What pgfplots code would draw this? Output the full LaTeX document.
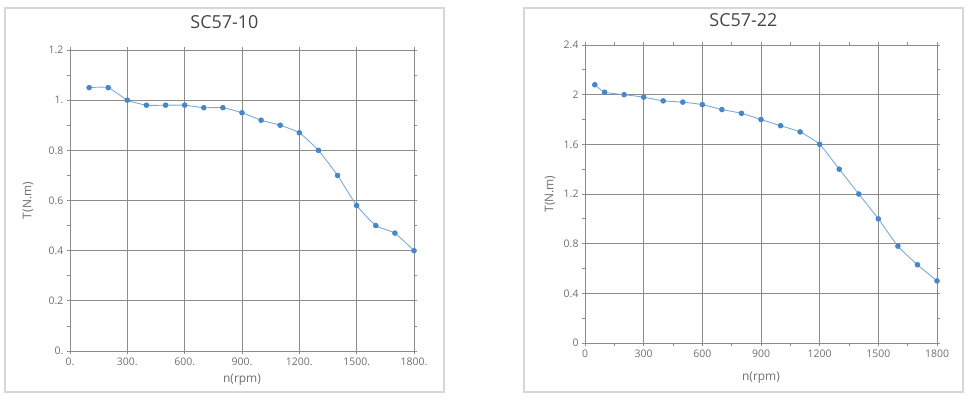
\documentclass[border=0pt]{standalone}
\usepackage{pgfplots}
\pgfplotsset{compat=1.18}
\usepackage{fontspec}
\setmainfont{Open Sans}
\definecolor{linec}{RGB}{120,170,220}
\definecolor{markc}{RGB}{70,135,200}
\definecolor{gridc}{RGB}{140,140,140}
\definecolor{framec}{RGB}{215,215,215}
\definecolor{txtc}{RGB}{110,110,110}
\definecolor{titc}{RGB}{70,70,70}
\pgfplotsset{
  common/.style={
    scale only axis,
    axis line style={gridc, line width=0.9bp},
    grid=major,
    major grid style={gridc, line width=0.9bp},
    tick style={gridc, line width=0.7bp},
    tick align=outside,
    major tick length=3bp, minor tick length=3bp,
    /pgf/number format/assume math mode=true,
    ticklabel style={font=\fontsize{10.5}{12}\selectfont, text=txtc},
    label style={font=\fontsize{12}{14}\selectfont, text=txtc},
    title style={font=\fontsize{18}{20}\selectfont, text=titc, anchor=center},
    xmin=0, xmax=1800,
    xtick={0,300,600,900,1200,1500,1800},
  },
  curve/.style={color=linec, line width=0.9bp, smooth, tension=0.3,
    mark=*, mark size=2.3bp, mark options={fill=markc, draw=markc}},
}
\begin{document}
\begin{tikzpicture}[x=1bp,y=1bp]
\path (0,0) rectangle (970,399);
\draw[framec, line width=1.2bp] (5,7) rectangle (444,391);
\draw[framec, line width=1.2bp] (524,7) rectangle (963,391);
\begin{axis}[common,
  at={(70bp,48bp)}, anchor=south west,
  width=344bp, height=301bp,
  ymin=0, ymax=1.2,
  ytick={0,0.2,0.4,0.6,0.8,1.0,1.2},
  yticklabels={0.,0.2,0.4,0.6,0.8,1.,1.2},
  xticklabels={0.,300.,600.,900.,1200.,1500.,1800.},
  minor ytick={0.1,0.3,0.5,0.7,0.9,1.1},
  title={SC57-10},
  title style={at={(axis description cs:0.449,1.073)}},
  xlabel={n(rpm)}, ylabel={T(N.m)},
  xlabel style={at={(axis description cs:0.5,0)}, anchor=center, yshift=-29bp},
  ylabel style={at={(axis description cs:0,0.5)}, anchor=center, yshift=42bp},
]
\addplot[curve] coordinates {
(100,1.05)(200,1.05)(300,1.00)(400,0.98)(500,0.98)(600,0.98)(700,0.97)(800,0.97)
(900,0.95)(1000,0.92)(1100,0.90)(1200,0.87)(1300,0.80)(1400,0.70)(1500,0.58)
(1600,0.50)(1700,0.47)(1800,0.40)};
\end{axis}
\begin{axis}[common,
  at={(585bp,56bp)}, anchor=south west,
  width=352bp, height=298bp,
  ymin=0, ymax=2.4,
  ytick={0,0.4,0.8,1.2,1.6,2.0,2.4},
  yticklabels={0,0.4,0.8,1.2,1.6,2,2.4},
  xticklabels={0,300,600,900,1200,1500,1800},
  minor ytick={0.2,0.6,1.0,1.4,1.8,2.2},
  minor xtick={150,450,750,1050,1350,1650},
  title={SC57-22},
  title style={at={(axis description cs:0.450,1.064)}},
  xlabel={n(rpm)}, ylabel={T(N.m)},
  xlabel style={at={(axis description cs:0.5,0)}, anchor=center, yshift=-35bp},
  ylabel style={at={(axis description cs:0,0.5)}, anchor=center, yshift=35bp},
]
\addplot[curve] coordinates {
(50,2.08)(100,2.02)(200,2.00)(300,1.98)(400,1.95)(500,1.94)(600,1.92)(700,1.88)
(800,1.85)(900,1.80)(1000,1.75)(1100,1.70)(1200,1.60)(1300,1.40)(1400,1.20)
(1500,1.00)(1600,0.78)(1700,0.63)(1800,0.50)};
\end{axis}
\end{tikzpicture}
\end{document}
